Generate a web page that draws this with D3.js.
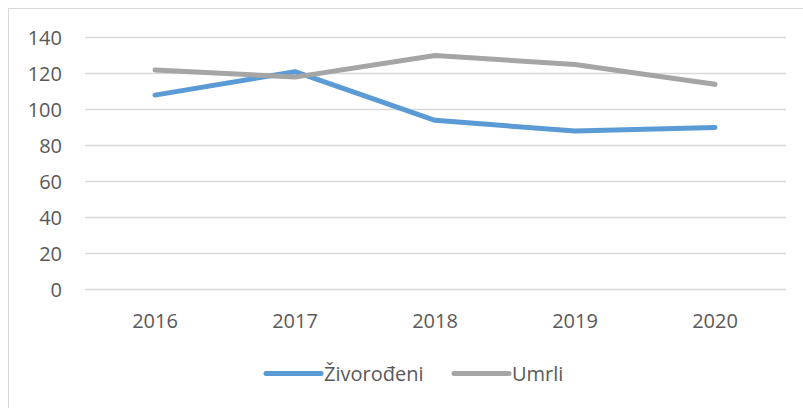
<!DOCTYPE html>
<html>
<head>
<meta charset="utf-8">
<script src="https://cdn.jsdelivr.net/npm/d3@7"></script>
<style>
  body { margin: 0; background: #fff; }
  text { font-family: "Open Sans", "Liberation Sans", sans-serif; fill: #595959; }
</style>
</head>
<body>
<svg id="chart" width="803" height="408"></svg>
<script>
const years = ["2016", "2017", "2018", "2019", "2020"];
const zivorodeni = [108, 121, 94, 88, 90];
const umrli = [122, 118, 130, 125, 114];
const yTicks = [0, 20, 40, 60, 80, 100, 120, 140];

const series = [
  { name: "Živorođeni", values: zivorodeni, color: "#5b9bd5" },
  { name: "Umrli", values: umrli, color: "#a5a5a5" }
];

const svg = d3.select("#chart");

// outer frame (right/bottom edges fall outside the picture)
svg.append("rect")
  .attr("x", 8.5).attr("y", 8.5)
  .attr("width", 820).attr("height", 420)
  .attr("fill", "none")
  .attr("stroke", "#d9d9d9");

const x = d3.scaleBand()
  .domain(years)
  .range([85, 785]);

const y = d3.scaleLinear()
  .domain([0, 140])
  .range([289.5, 37.5]);

// gridlines
svg.append("g")
  .selectAll("line")
  .data(yTicks)
  .join("line")
  .attr("x1", 85).attr("x2", 786)
  .attr("y1", d => y(d)).attr("y2", d => y(d))
  .attr("stroke", "#d9d9d9")
  .attr("stroke-width", 1.5);

// y labels
svg.append("g")
  .selectAll("text")
  .data(yTicks)
  .join("text")
  .attr("x", 62)
  .attr("y", d => y(d))
  .attr("dy", "0.35em")
  .attr("text-anchor", "end")
  .attr("font-size", 20)
  .text(d => d);

// x labels
svg.append("g")
  .selectAll("text")
  .data(years)
  .join("text")
  .attr("x", d => x(d) + x.bandwidth() / 2)
  .attr("y", 321)
  .attr("dy", "0.35em")
  .attr("text-anchor", "middle")
  .attr("font-size", 20)
  .text(d => d);

const line = d3.line()
  .x((d, i) => x(years[i]) + x.bandwidth() / 2)
  .y(d => y(d));

svg.append("g")
  .selectAll("path")
  .data(series)
  .join("path")
  .attr("d", d => line(d.values))
  .attr("fill", "none")
  .attr("stroke", d => d.color)
  .attr("stroke-width", 5)
  .attr("stroke-linecap", "round")
  .attr("stroke-linejoin", "round");

// legend
const legendPos = [266, 454];
const legend = svg.append("g")
  .selectAll("g")
  .data(series)
  .join("g")
  .attr("transform", (d, i) => `translate(${legendPos[i]},373.5)`);

legend.append("line")
  .attr("x1", 0).attr("x2", 55)
  .attr("stroke", d => d.color)
  .attr("stroke-width", 5)
  .attr("stroke-linecap", "round");

legend.append("text")
  .attr("x", 58)
  .attr("dy", "0.35em")
  .attr("font-size", 20)
  .text(d => d.name);
</script>
</body>
</html>
